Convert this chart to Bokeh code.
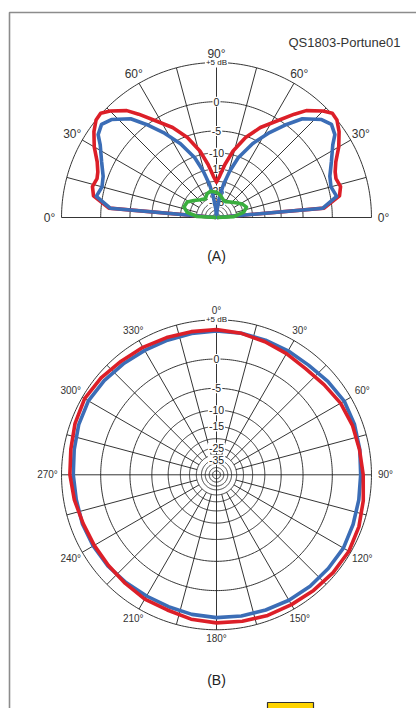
import numpy as np
from bokeh.plotting import figure
from bokeh.models import Range1d, ColumnDataSource
from bokeh.core.properties import value
from bokeh.embed import file_html
from bokeh.resources import INLINE

# ---------------- data ----------------
# log (ARRL style) radial scale: rings in dB
ring_db = [5, 0, -5, -10, -15, -20, -25, -30, -35, -40, -47.5, -58]
ring_label_db = [0, -5, -10, -15, -25, -35]
ring_labels = ["0", "-5", "-10", "-15", "-25", "-35"]
outer_label = "+5 dB"

# (A) elevation pattern, degrees above horizon (mirrored on both sides)
red_elev_deg = [0, 5, 10, 14, 18, 21, 25, 30, 35, 39, 42, 45, 50, 53, 58, 64, 70, 76, 81, 85.5, 90]
red_elev_db = [-100, -1.2, 1.3, 1.7, 1.4, 1.6, 2.2, 3.4, 4.4, 5.0, 5.1, 4.5, 3.2, 1.9, -0.3, -2.5, -5.3, -9.0, -13.2, -17.5, -20.4]
blue_elev_deg = [0, 5, 10, 15, 20, 26, 32, 35, 39, 43, 49, 53, 58, 64, 70, 74, 78, 81, 85, 90]
blue_elev_db = [-100, -1.4, 0.9, 0.4, 0.7, 1.7, 2.9, 3.8, 4.2, 3.7, 2.1, 0.1, -2.5, -5.9, -10.3, -15.0, -21.0, -28.0, -44, -100]
green_elev_deg = [0, 3, 11, 19, 28, 35, 48, 60, 67, 80, 90, 103, 112, 121, 132, 143, 152, 162, 170, 177, 180]
green_elev_db = [-100, -32.5, -24.5, -22.2, -23.8, -26.1, -29.5, -31.6, -31.5, -28.2, -26.1, -25.0, -26.0, -28.7, -27.1, -24.2, -21.5, -20.9, -23.3, -30.7, -100]
elev_tick_deg = [0, 30, 60, 90, 120, 150, 180]
elev_tick_labels = ["0°", "30°", "60°", "90°", "60°", "30°", "0°"]

# (B) azimuth pattern, degrees clockwise from top
azim_deg = [0, 10, 20, 30, 40, 50, 60, 70, 80, 90, 100, 110, 120, 130, 140, 150, 160, 170,
            180, 190, 200, 210, 220, 230, 240, 250, 260, 270, 280, 290, 300, 310, 320, 330, 340, 350]
azim_red_db = [3.88, 3.7, 3.45, 3.25, 3.08, 3.3, 3.65, 3.82, 3.88, 4.06, 4.33, 4.62, 4.77, 4.69, 4.55, 4.43, 4.4, 4.3,
               4.22, 4.05, 3.72, 3.68, 3.48, 3.38, 3.4, 3.5, 3.78, 4.05, 4.2, 4.5, 4.7, 4.52, 4.25, 4.12, 3.98, 3.9]
azim_blue_db = [3.72, 3.7, 3.66, 3.64, 3.64, 3.9, 4.15, 4.08, 3.92, 3.76, 3.8, 3.9, 4.04, 3.96, 3.93, 3.84, 3.73, 3.66,
                3.6, 3.47, 3.3, 3.25, 3.35, 3.48, 3.55, 3.6, 3.55, 3.65, 3.8, 4.05, 4.2, 4.05, 3.85, 3.7, 3.65, 3.68]
azim_tick_deg = [0, 30, 60, 90, 120, 150, 180, 210, 240, 270, 300, 330]
azim_tick_labels = ["0°", "30°", "60°", "90°", "120°", "150°", "180°", "210°", "240°", "270°", "300°", "330°"]

title_a = "(A)"
title_b = "(B)"
figure_id = "QS1803-Portune01"

# ---------------- styling / geometry ----------------
W, H = 416, 708
R0 = 115.8          # pixel radius of the 0 dB ring
CA = (216.0, 217.0)  # centre of (A)
CB = (216.0, 474.3)  # centre of (B)
RED = "#dc1f28"
BLUE = "#3b6db6"
GREEN = "#3aae3e"
GRID = "#1e1e1e"
LW = 3.6
FONT = value("Liberation Sans")


def rad(db):
    return R0 * 0.89 ** (-np.asarray(db, dtype=float) / 2.0)


p = figure(width=W, height=H, x_range=Range1d(0, W), y_range=Range1d(H, 0),
           output_backend="svg", toolbar_location=None, x_axis_type=None, y_axis_type=None,
           min_border=0, outline_line_color=None, background_fill_color="white")

# frame lines
p.line([9, 9, 420], [712, 12, 12], line_color="#8c8c8c", line_width=1.6)
# tab at the bottom
p.quad(left=[267], right=[313], top=[702], bottom=[716], fill_color="#ffd400",
       line_color="#333333", line_width=1.2)

r_out = float(rad(5))
r_in = float(rad(-30))

# ---------- grid (A) ----------
t = np.linspace(0, np.pi, 181)
xs, ys = [], []
for db in ring_db:
    r = float(rad(db))
    xs.append(list(CA[0] + r * np.cos(t)))
    ys.append(list(CA[1] - r * np.sin(t)))
for a in range(15, 180, 15):
    th = np.radians(a)
    r1 = 0.0 if a == 90 else r_in
    xs.append([CA[0] + r1 * np.cos(th), CA[0] + r_out * np.cos(th)])
    ys.append([CA[1] - r1 * np.sin(th), CA[1] - r_out * np.sin(th)])
xs.append([CA[0] - r_out, CA[0] + r_out])
ys.append([CA[1], CA[1]])
p.multi_line(xs, ys, line_color=GRID, line_width=0.9)

# ---------- grid (B) ----------
t = np.linspace(0, 2 * np.pi, 361)
xs, ys = [], []
for db in ring_db:
    r = float(rad(db))
    xs.append(list(CB[0] + r * np.sin(t)))
    ys.append(list(CB[1] - r * np.cos(t)))
for a in range(0, 360, 15):
    th = np.radians(a)
    if a % 90 == 0:
        continue
    xs.append([CB[0] + r_in * np.sin(th), CB[0] + r_out * np.sin(th)])
    ys.append([CB[1] - r_in * np.cos(th), CB[1] - r_out * np.cos(th)])
xs.append([CB[0] - r_out, CB[0] + r_out]); ys.append([CB[1], CB[1]])
xs.append([CB[0], CB[0]]); ys.append([CB[1] - r_out, CB[1] + r_out])
p.multi_line(xs, ys, line_color=GRID, line_width=0.9)

# ---------- ring labels ----------
for c in (CA, CB):
    src = ColumnDataSource(dict(x=[c[0]] * len(ring_label_db),
                                y=list(c[1] - rad(ring_label_db)), t=ring_labels))
    p.text(x="x", y="y", text="t", source=src, text_font=FONT, text_font_size="10.5px",
           text_color="#222222", text_align="center", text_baseline="middle",
           background_fill_color="white", padding=1)
    p.text(x=[c[0]], y=[c[1] - r_out - 0.5], text=[outer_label], text_font=FONT,
           text_font_size="8px", text_color="#222222", text_align="center",
           text_baseline="middle", background_fill_color="white", padding=1)

# ---------- angle labels ----------
th = np.radians(elev_tick_deg)
rl = 164 + 3 * np.abs(np.cos(th))
p.text(x=list(CA[0] + rl * np.cos(th)), y=list(CA[1] - rl * np.sin(th)), text=elev_tick_labels,
       text_font=FONT, text_font_size="12px", text_color="#333333",
       text_align="center", text_baseline="middle")
th = np.radians(azim_tick_deg)
rl = 164 + 5 * np.abs(np.sin(th))
p.text(x=list(CB[0] + rl * np.sin(th)), y=list(CB[1] - rl * np.cos(th)), text=azim_tick_labels,
       text_font=FONT, text_font_size="10px", text_color="#333333",
       text_align="center", text_baseline="middle")


# ---------- pattern curves (A) ----------
def elev_xy(deg, db, mirror=True):
    deg = list(deg)
    db = list(db)
    if mirror:
        deg = deg + [180 - d for d in deg[::-1]]
        db = db + db[::-1]
    th = np.radians(deg)
    r = rad(db)
    return list(CA[0] + r * np.cos(th)), list(CA[1] - r * np.sin(th))


x, y = elev_xy(red_elev_deg, red_elev_db)
p.line(x, y, line_color=RED, line_width=LW, line_join="round")
x, y = elev_xy(blue_elev_deg, blue_elev_db)
p.line(x, y, line_color=BLUE, line_width=LW, line_join="round")
x, y = elev_xy(green_elev_deg, green_elev_db, mirror=False)
p.line(x, y, line_color=GREEN, line_width=LW, line_join="round")


# ---------- pattern curves (B) ----------
def azim_xy(deg, db):
    deg = list(deg) + [deg[0]]
    db = list(db) + [db[0]]
    th = np.radians(deg)
    r = rad(db)
    return list(CB[0] + r * np.sin(th)), list(CB[1] - r * np.cos(th))


x, y = azim_xy(azim_deg, azim_blue_db)
p.line(x, y, line_color=BLUE, line_width=LW, line_join="round")
x, y = azim_xy(azim_deg, azim_red_db)
p.line(x, y, line_color=RED, line_width=LW, line_join="round")

# ---------- titles ----------
p.text(x=[216, 216], y=[255, 679], text=[title_a, title_b], text_font=FONT,
       text_font_size="14px", text_color="#222222", text_align="center", text_baseline="middle")
p.text(x=[400], y=[42], text=[figure_id], text_font=FONT, text_font_size="13px",
       text_color="#333333", text_align="right", text_baseline="middle")

open("out.html", "w").write(file_html(p, INLINE))
